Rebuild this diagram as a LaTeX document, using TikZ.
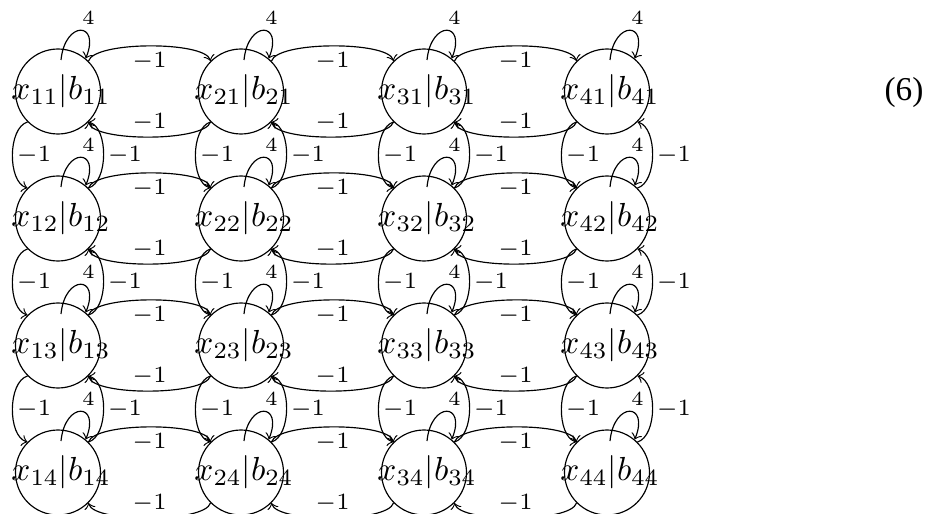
\documentclass[tikz,border=0pt]{standalone}
\usepackage{fontspec}
\setmainfont{Liberation Serif}
\usetikzlibrary{calc}
\begin{document}
\begin{tikzpicture}[x=0.3pt,y=-0.3pt,
  vertex/.style={draw, circle, minimum size=25.5pt, inner sep=-4pt, line width=0.35pt,
    font=\fontsize{9.6}{11}\selectfont},
  link/.style={->, line width=0.35pt},
  wlbl/.style={font=\scriptsize, inner sep=0pt},
  looplbl/.style={font=\fontsize{6.5}{8}\selectfont, inner sep=0pt}]
\useasboundingbox (0,0) rectangle (930,518);
\clip (0,0) rectangle (930,513);
% grid of states
\foreach \i in {1,...,4}
  \foreach \j in {1,...,4}
    \node[vertex] (n\i\j) at ({58+(\i-1)*183},{91.5+(\j-1)*127})
      {\hspace{1.8pt}$x_{\i\j}|b_{\i\j}$};
% self loops
\foreach \i in {1,...,4}
  \foreach \j in {1,...,4}
    \draw[link] ($(n\i\j.center)+(3,-31.5)$) .. controls +(4,-40) and +(15,-37) .. (n\i\j.50)
      node[looplbl, pos=0.5, xshift=2.4pt, yshift=3.75pt] {$4$};
% horizontal couplings
\foreach \i/\k in {1/2,2/3,3/4}
  \foreach \j in {1,...,4} {
    \draw[link] (n\i\j.45) .. controls +(6,-20) and +(-6,-20) .. (n\k\j.135)
      node[wlbl, midway, yshift=-4.65pt] {$-1$};
    \draw[link] (n\k\j.225) .. controls +(-6,20) and +(6,20) .. (n\i\j.315)
      node[wlbl, midway, yshift=4.5pt] {$-1$};
  }
% vertical couplings
\foreach \j/\k in {1/2,2/3,3/4}
  \foreach \i in {1,...,4} {
    \draw[link] (n\i\j.225) .. controls +(-20,6) and +(-20,-6) .. (n\i\k.135)
      node[wlbl, midway, xshift=6.45pt] {$-1$};
    \draw[link] (n\i\k.45) .. controls +(20,-6) and +(20,6) .. (n\i\j.315)
      node[wlbl, midway, xshift=6.45pt] {$-1$};
  }
% equation number
\node[font=\fontsize{10}{12}\selectfont] (eqno) at (904,92.5) {(6)};
\end{tikzpicture}
\end{document}
